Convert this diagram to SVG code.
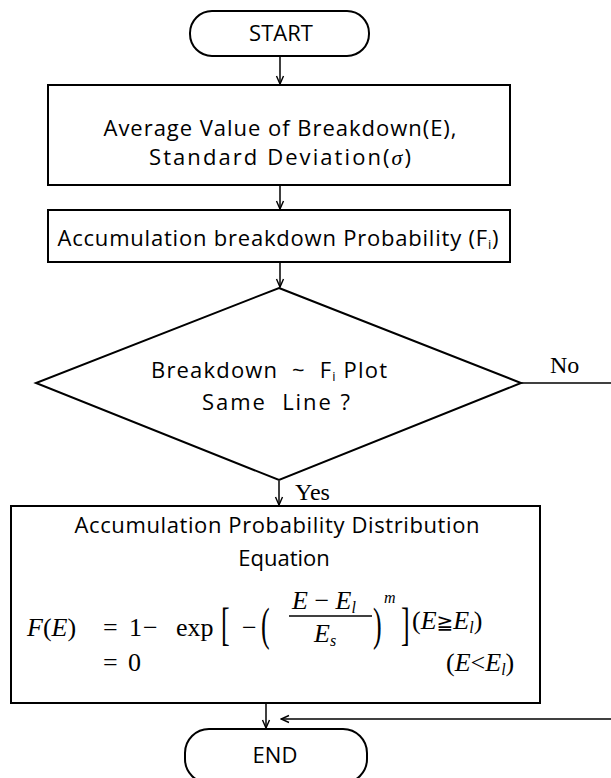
<svg xmlns="http://www.w3.org/2000/svg" width="611" height="778" viewBox="0 0 611 778">
<defs>
<marker id="ah" markerUnits="userSpaceOnUse" markerWidth="10" markerHeight="10" viewBox="0 0 10 10" refX="9" refY="5" orient="auto">
<path d="M1,1.5 L9,5 L1,8.5" fill="none" stroke="#000" stroke-width="1.4"/>
</marker>
<style>
.b{fill:#fff;stroke:#000;stroke-width:2}
.t{font-family:"Open Sans","Liberation Sans",sans-serif;font-size:22px;fill:#000;text-anchor:middle}
.s{font-family:"Liberation Serif","DejaVu Serif",serif;font-size:24px;fill:#000}
.m{font-family:"Liberation Serif","DejaVu Serif",serif;font-size:26px;fill:#000}
.sup{font-size:16px;font-style:italic}
.i{font-style:italic}
.c{fill:none;stroke:#000;stroke-width:1.5}
</style>
</defs>
<rect width="611" height="778" fill="#fff"/>
<g id="connectors">
<line class="c" x1="280" y1="56" x2="280" y2="84" marker-end="url(#ah)"/>
<line class="c" x1="280" y1="186" x2="280" y2="209" marker-end="url(#ah)"/>
<line class="c" x1="280" y1="263" x2="280" y2="287" marker-end="url(#ah)"/>
<line class="c" x1="279" y1="481" x2="279" y2="505" marker-end="url(#ah)"/>
<polyline class="c" points="521,383 611,383"/>
<line class="c" x1="266" y1="704" x2="266" y2="728" marker-end="url(#ah)"/>
<line class="c" x1="611" y1="719" x2="281" y2="719" marker-end="url(#ah)"/>
<text class="s" x="550" y="373">No</text>
<text class="s" x="295" y="500">Yes</text>
</g>
<g id="start">
<rect class="b" x="190" y="11" width="179" height="45" rx="22" ry="22"/>
<text class="t" x="281" y="41">START</text>
</g>
<g id="avg">
<rect class="b" x="48" y="85" width="462" height="100"/>
<text class="t" x="280" y="136" textLength="353">Average Value of Breakdown(E),</text>
<text class="t" x="280" y="165" textLength="262">Standard Deviation(<tspan font-family="Liberation Serif,serif" font-style="italic">σ</tspan>)</text>
</g>
<g id="accum">
<rect class="b" x="48" y="210" width="462" height="52" stroke-width="1.6"/>
<text class="t" x="278" y="246" textLength="441">Accumulation breakdown Probability (F<tspan font-size="13" dy="3">i</tspan><tspan dy="-3">)</tspan></text>
</g>
<g id="decision">
<polygon class="b" points="279,288 521,383 279,480 36,383" stroke-width="1.8"/>
<text class="t" x="269" y="378" textLength="236" xml:space="preserve">Breakdown  ~  F<tspan font-size="13" dy="3">i</tspan><tspan dy="-3"> Plot</tspan></text>
<text class="t" x="276" y="410" textLength="148" xml:space="preserve">Same  Line ?</text>
</g>
<g id="equation">
<rect class="b" x="11" y="506" width="529" height="197"/>
<text class="t" x="277" y="533" textLength="405">Accumulation Probability Distribution</text>
<text class="t" x="284" y="566">Equation</text>
<text class="m" x="27" y="636"><tspan class="i">F</tspan>(<tspan class="i">E</tspan>)</text>
<text class="m" x="103" y="636">=</text>
<text class="m" x="129" y="636">1</text>
<text class="m" x="143" y="636">−</text>
<text class="m" x="176" y="636">exp</text>
<text class="m" transform="translate(221,640) scale(1,1.75)">[</text>
<text class="m" x="242" y="636">−</text>
<text class="m" transform="translate(261,640) scale(1,1.75)">(</text>
<text class="m" x="292" y="609"><tspan class="i">E</tspan> − <tspan class="i">E</tspan><tspan class="i" font-size="16" dy="4">l</tspan></text>
<line x1="289" y1="616" x2="372" y2="616" stroke="#000" stroke-width="1.3"/>
<text class="m" x="314" y="642"><tspan class="i">E</tspan><tspan class="i" font-size="16" dy="4">s</tspan></text>
<text class="m" transform="translate(373,640) scale(1,1.75)">)</text>
<text class="m sup" x="384" y="603">m</text>
<text class="m" transform="translate(401,640) scale(1,1.75)">]</text>
<text class="m" x="412" y="629">(<tspan class="i">E</tspan><tspan font-family="DejaVu Sans,sans-serif" font-size="20">≧</tspan><tspan class="i">E</tspan><tspan class="i" font-size="16" dy="4">l</tspan><tspan dy="-4">)</tspan></text>
<text class="m" x="103" y="671">=</text>
<text class="m" x="128" y="671">0</text>
<text class="m" x="446" y="671">(<tspan class="i">E</tspan>&lt;<tspan class="i">E</tspan><tspan class="i" font-size="16" dy="4">l</tspan><tspan dy="-4">)</tspan></text>
</g>
<g id="end">
<rect class="b" x="185" y="729" width="182" height="54" rx="24" ry="24"/>
<text class="t" x="275" y="763">END</text>
</g>
</svg>
